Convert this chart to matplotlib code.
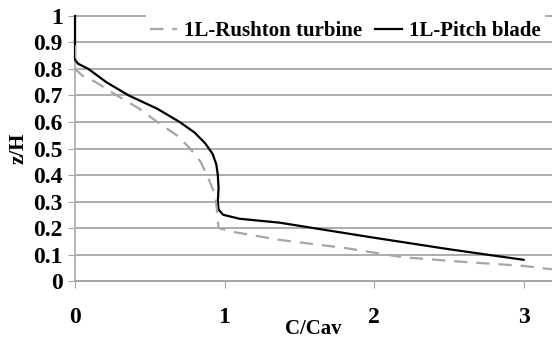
import numpy as np
import matplotlib.pyplot as plt

# C/Cav against z/H
rushton_c = [0.0, 0.0, 0.05, 0.14, 0.28, 0.43, 0.55, 0.68, 0.77, 0.84, 0.89, 0.94, 0.96,
             1.06, 1.37, 1.80, 2.19, 2.60, 3.00, 3.25]
rushton_z = [0.89, 0.80, 0.775, 0.75, 0.70, 0.65, 0.60, 0.55, 0.50, 0.45, 0.39, 0.32, 0.20,
             0.185, 0.155, 0.125, 0.09, 0.072, 0.057, 0.04]

pitch_c = [0.0, 0.0, 0.02, 0.09, 0.21, 0.36, 0.55, 0.70, 0.80, 0.87, 0.92, 0.945, 0.955,
           0.96, 0.955, 0.96, 0.99, 1.10, 1.37, 1.97, 2.50, 3.00]
pitch_z = [1.0, 0.835, 0.82, 0.80, 0.75, 0.70, 0.65, 0.60, 0.56, 0.52, 0.48, 0.44, 0.40,
           0.35, 0.30, 0.27, 0.25, 0.235, 0.22, 0.166, 0.12, 0.08]

yticks = np.arange(0, 1.01, 0.1)
ytick_labels = ['0', '0.1', '0.2', '0.3', '0.4', '0.5', '0.6', '0.7', '0.8', '0.9', '1']
xticks = [0, 1, 2, 3]

plt.rcParams['font.family'] = 'Liberation Serif'
plt.rcParams['font.weight'] = 'bold'

fig = plt.figure(figsize=(5.52, 3.38), dpi=100)
ax = fig.add_axes([0.1359, 0.1686, 1 - 0.1359, 0.9527 - 0.1686])

ax.set_xlim(0, 3.19)
ax.set_ylim(0, 1)

grid_kw = dict(color='#a6a6a6', lw=1.3, zorder=1, clip_on=False)
for y in yticks[:-1]:
    ax.axhline(y, **grid_kw)
# top gridline is hidden behind the legend
ax.axhline(1.0, xmin=0, xmax=0.147, **grid_kw)
ax.axhline(1.0, xmin=0.988, xmax=1, **grid_kw)

l1, = ax.plot(rushton_c, rushton_z, color='#a6a6a6', lw=1.6, ls=(0, (6, 4)), zorder=4,
              label='1L-Rushton turbine')
l2, = ax.plot(pitch_c, pitch_z, color='black', lw=1.6, zorder=3, clip_on=False,
              label='1L-Pitch blade')

for s in ['top', 'right']:
    ax.spines[s].set_visible(False)
ax.spines['left'].set_color('#b0b0b0')
ax.spines['bottom'].set_color('#a6a6a6')
ax.spines['left'].set_linewidth(1.3)
ax.spines['bottom'].set_linewidth(1.3)

ax.set_yticks(yticks)
ax.set_yticklabels(ytick_labels, fontsize=17, fontweight='bold')
ax.set_xticks(xticks)
ax.set_xticklabels([str(v) for v in xticks], fontsize=17, fontweight='bold')
ax.tick_params(axis='y', length=5, color='#a6a6a6', pad=4)
ax.tick_params(axis='x', length=5, color='#a6a6a6', pad=14)

ax.set_ylabel('z/H', fontsize=15, fontweight='bold', labelpad=3)
ax.set_xlabel('C/Cav', fontsize=15, fontweight='bold', labelpad=-7)

leg = ax.legend(handles=[l1, l2], ncol=2, loc='center', bbox_to_anchor=(0.567, 0.943),
                frameon=False,
                prop={'family': 'Liberation Serif', 'weight': 'bold', 'size': 15},
                handlelength=1.3, columnspacing=0.6, handletextpad=0.35, borderpad=0)
leg.set_zorder(5)

fig.savefig('out.png', dpi=100)
